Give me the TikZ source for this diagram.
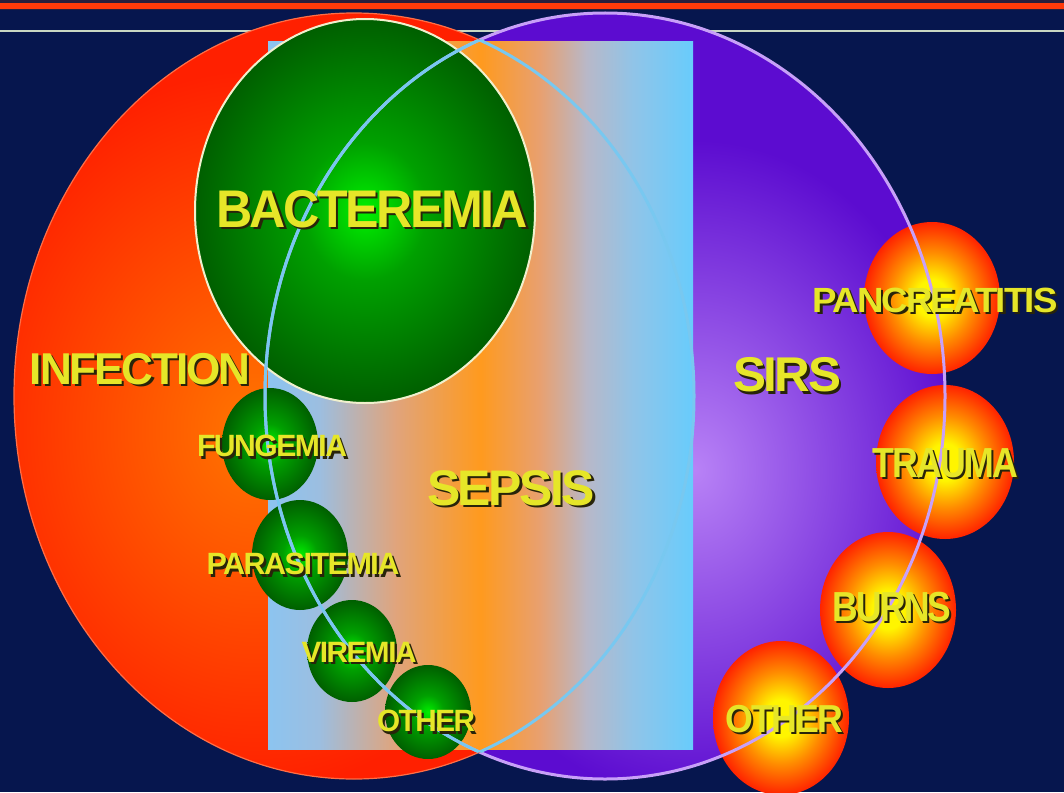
\documentclass[tikz,border=0pt]{standalone}
\usepackage{fontspec}
\setmainfont{Liberation Sans}
\newfontfamily\lblfont[LetterSpace=-5]{Liberation Sans}
\usepackage{graphicx}
\usepackage{tikz}

\definecolor{navybg}{RGB}{6,22,78}
\definecolor{topbar}{RGB}{255,58,10}
\definecolor{topdark}{RGB}{40,30,60}
\definecolor{rulec}{RGB}{200,215,195}
\definecolor{infred}{RGB}{255,32,0}
\definecolor{infora}{RGB}{255,118,0}
\definecolor{infedge}{RGB}{255,110,70}
\definecolor{sirsdark}{RGB}{92,12,208}
\definecolor{sirslight}{RGB}{184,130,246}
\definecolor{sirsedge}{RGB}{200,160,248}
\definecolor{lensblue}{RGB}{120,200,240}
\definecolor{sepL}{RGB}{140,196,240}
\definecolor{sepLg}{RGB}{156,190,224}
\definecolor{sepsalmon}{RGB}{224,164,124}
\definecolor{sepora}{RGB}{255,154,30}
\definecolor{sepsalmonR}{RGB}{232,160,112}
\definecolor{sepgrey}{RGB}{184,184,200}
\definecolor{sepRg}{RGB}{144,196,232}
\definecolor{sepR}{RGB}{104,204,252}
\definecolor{gbright}{RGB}{0,240,0}
\definecolor{gmid}{RGB}{0,160,0}
\definecolor{gdark}{RGB}{0,95,0}
\definecolor{fyellow}{RGB}{255,245,0}
\definecolor{forange}{RGB}{255,140,0}
\definecolor{fred}{RGB}{255,35,0}
\definecolor{labyellow}{RGB}{230,230,40}
\definecolor{labshadow}{RGB}{40,36,10}
\definecolor{bactedge}{RGB}{240,240,205}

\pgfdeclareradialshading{greenglow}{\pgfpoint{0bp}{0bp}}{color(0bp)=(gbright); color(9bp)=(gmid); color(25bp)=(gdark); color(50bp)=(gdark)}
\pgfdeclareradialshading{fireglow}{\pgfpoint{0bp}{0bp}}{color(0bp)=(fyellow); color(6bp)=(fyellow); color(15bp)=(forange); color(25bp)=(fred); color(50bp)=(fred)}
\pgfdeclarehorizontalshading{sepband}{100bp}{color(0bp)=(sepL); color(25bp)=(sepL); color(31bp)=(sepLg); color(40bp)=(sepsalmon); color(50bp)=(sepora); color(57bp)=(sepsalmonR); color(62.5bp)=(sepgrey); color(68bp)=(sepRg); color(75bp)=(sepR); color(100bp)=(sepR)}

% yellow caps with a dark drop shadow, squeezed to a given width
\newcommand{\shlabel}[2]{\resizebox{#1}{\height}{\rlap{\kern1.2pt\smash{\raisebox{-1.2pt}{\color{labshadow}#2}}}#2}}

\begin{document}
\begin{tikzpicture}[
    x=0.5pt, y=-0.5pt,
    lbl/.style={inner sep=0pt, text=labyellow, font=\lblfont\bfseries\fontsize{#1}{#1}\selectfont},
    lens/.style={draw=lensblue, line width=1.5pt},
    gball/.style={shading=greenglow},
    fball/.style={shading=fireglow}
]

% background and title rules
\fill[navybg] (0,0) rectangle (1064,792);
\useasboundingbox (0,0) rectangle (1064,792);
\fill[topdark] (0,0) rectangle (1064,10);
\fill[topbar] (0,2.7) rectangle (1064,9.3);
\draw[rulec, line width=1pt] (0,31) -- (1064,31);

% SIRS
\begin{scope}
\clip (605,396) ellipse [x radius=340, y radius=383];
\fill[sirsdark] (605,396) ellipse [x radius=340, y radius=383];
\shade[inner color=sirslight, outer color=sirsdark] (695,470) ellipse [x radius=270, y radius=330];
\end{scope}

% INFECTION
\begin{scope}
\clip (354,396) ellipse [x radius=340, y radius=383];
\fill[infred] (354,396) ellipse [x radius=340, y radius=383];
\shade[inner color=infora, outer color=infred] (255,430) ellipse [x radius=300, y radius=360];
\end{scope}

% SEPSIS band
\shade[shading=sepband] (268,42) rectangle (693,749);

% infection balls
\shadedraw[gball, draw=bactedge, line width=1pt] (365,211) ellipse [x radius=170, y radius=192];
\shade[gball] (270,444) ellipse [x radius=48, y radius=56];
\shade[gball] (300,555) ellipse [x radius=48, y radius=55];
\shade[gball] (352,651) ellipse [x radius=45, y radius=51];
\shade[gball] (428,712) ellipse [x radius=43, y radius=47];

% SIRS balls
\shade[fball] (932,298) ellipse [x radius=68, y radius=76];
\shade[fball] (945,462) ellipse [x radius=69, y radius=77];
\shade[fball] (781,718) ellipse [x radius=68, y radius=77];
\shade[fball] (888,610) ellipse [x radius=68, y radius=78];

% outlines
\draw[sirsedge, line width=1.5pt] (605,396) ellipse [x radius=340, y radius=383];
\draw[infedge, line width=0.6pt] (354,396) ellipse [x radius=340, y radius=383];
\begin{scope}
\clip (354,396) ellipse [x radius=340, y radius=383];
\draw[lens] (605,396) ellipse [x radius=340, y radius=383];
\end{scope}
\begin{scope}
\clip (605,396) ellipse [x radius=340, y radius=383];
\draw[lens] (354,396) ellipse [x radius=340, y radius=383];
\end{scope}

% labels
\node[lbl=26.5pt] (bact) at (372,209) {\shlabel{156pt}{BACTEREMIA}};
\node[lbl=22.3pt] (infect) at (140,369) {\shlabel{110pt}{INFECTION}};
\node[lbl=25pt] (sepsis) at (511,488) {\shlabel{84pt}{SEPSIS}};
\node[lbl=24.4pt] (sirs) at (787,375) {\shlabel{54pt}{SIRS}};
\node[lbl=17.5pt] (pancr) at (935,300) {\shlabel{122.5pt}{PANCREATITIS}};
\node[lbl=21pt] (trauma) at (945,463) {\shlabel{73pt}{TRAUMA}};
\node[lbl=21pt] (burns) at (892,607) {\shlabel{59.5pt}{BURNS}};
\node[lbl=19.5pt] (othersirs) at (784,719) {\shlabel{59pt}{OTHER}};
\node[lbl=15.4pt] (fung) at (272,446) {\shlabel{75pt}{FUNGEMIA}};
\node[lbl=15.4pt] (para) at (303,564) {\shlabel{96.5pt}{PARASITEMIA}};
\node[lbl=14.7pt] (vir) at (359,652) {\shlabel{57.5pt}{VIREMIA}};
\node[lbl=15.4pt] (otherinf) at (426,721) {\shlabel{49pt}{OTHER}};

\end{tikzpicture}
\end{document}
